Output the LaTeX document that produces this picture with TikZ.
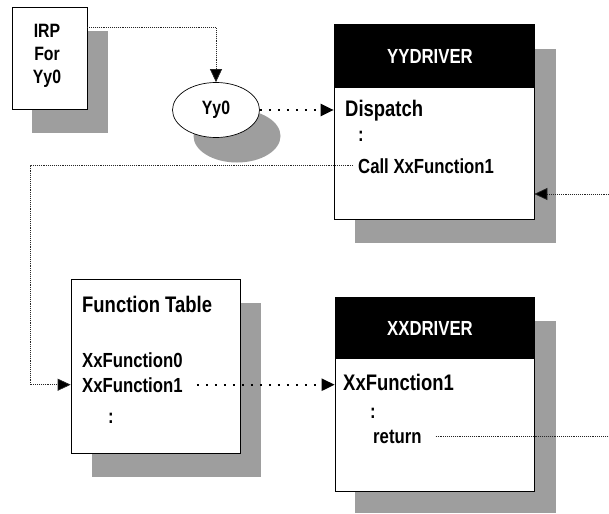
\documentclass[tikz,border=0pt]{standalone}
\usepackage{fontspec}
\setmainfont{Liberation Sans}[FakeStretch=0.82]
\usetikzlibrary{arrows.meta,shapes.geometric}
\begin{document}
\begin{tikzpicture}[x=1pt,y=-1pt,
  box/.style={draw=black, line width=0.7pt, fill=white, inner sep=0},
  shadowfill/.style={fill=black!38},
  header/.style={fill=black, draw=black, line width=0.7pt, inner sep=0},
  headtext/.style={text=white, inner sep=0, font=\bfseries\fontsize{20.4}{23}\selectfont},
  lbl/.style={inner sep=0, anchor=base west, font=\bfseries\fontsize{20.4}{23}\selectfont},
  biglbl/.style={inner sep=0, anchor=base west, font=\bfseries\fontsize{22.5}{25}\selectfont},
  thinlink/.style={draw=black!85, line width=0.7pt, dash pattern=on 0.8pt off 1.1pt},
  thicklink/.style={draw=black, line width=2.2pt, dash pattern=on 2.6pt off 6.4pt},
  tip/.style={-{Triangle[length=13pt,width=12pt,fill=black]}},
]
\useasboundingbox[fill=white] (0,0) rectangle (609,513);

% shadows
\fill[shadowfill] (32,31) rectangle (108,133);
\fill[shadowfill] (237,136) ellipse [x radius=43.5pt, y radius=26.5pt];
\fill[shadowfill] (355,49) rectangle (556,243);
\fill[shadowfill] (92,303) rectangle (261,477);
\fill[shadowfill] (355,321) rectangle (556,513);

% IRP box
\node[box, minimum width=75pt, minimum height=102pt] (irp) at (49.5,58) {};
\node[inner sep=0, align=center, font=\bfseries\fontsize{19.3}{23}\selectfont] (irptext) at (47,56) {IRP\\For\\Yy0};

% Yy0 ellipse
\node[ellipse, draw=black, fill=white, line width=0.7pt, inner sep=0,
      minimum width=87pt, minimum height=55pt,
      font=\bfseries\fontsize{19.3}{22}\selectfont] (yy) at (216,110) {Yy0};

% YYDRIVER
\node[box, minimum width=200pt, minimum height=195pt] (yybox) at (434,121.5) {};
\node[header, minimum width=200pt, minimum height=63pt] (yyhead) at (434,55.5) {};
\node[headtext] (yyheadtext) at (430,56) {YYDRIVER};
\node[biglbl] (dispatch) at (345,117) {Dispatch};
\node[lbl] (yycolon) at (358,142) {:};
\node[lbl] (call) at (358,173) {Call XxFunction1};

% Function Table
\node[box, minimum width=169pt, minimum height=174pt] (ftbox) at (155.5,366) {};
\node[biglbl] (fttitle) at (82,312) {Function Table};
\node[lbl] (fn0) at (82,367) {XxFunction0};
\node[lbl] (fn1) at (82,392) {XxFunction1};
\node[lbl] (ftcolon) at (108,423) {:};

% XXDRIVER
\node[box, minimum width=199pt, minimum height=194pt] (xxbox) at (434.5,394) {};
\node[header, minimum width=199pt, minimum height=61pt] (xxhead) at (434.5,327.5) {};
\node[headtext] (xxheadtext) at (430,328) {XXDRIVER};
\node[biglbl] (xxfn) at (343,390) {XxFunction1};
\node[lbl] (xxcolon) at (370,418) {:};
\node[lbl] (ret) at (373,443) {return};

% free ends and bend points
\coordinate (loopx) at (30,0);
\coordinate (inend) at (609,194);
\coordinate (retend) at (609,0);

% connectors
\draw[thinlink, tip] ([yshift=-21pt]irp.north east) -| (yy.north);
\draw[thicklink, tip] (yy.east) -- (yybox.west |- yy.east);
\draw[thinlink, tip] ([xshift=-5pt]call.west) -- (call.west -| loopx) -- (loopx |- fn1.west) -- (ftbox.west |- fn1.west);
\draw[thicklink, tip] ([xshift=14pt]fn1.east) -- (xxbox.west |- fn1.east);
\draw[thinlink] ([xshift=14pt]ret.east) -- (retend |- ret.east);
\draw[thinlink, tip] (inend) -- (yybox.east |- inend);
\end{tikzpicture}
\end{document}
